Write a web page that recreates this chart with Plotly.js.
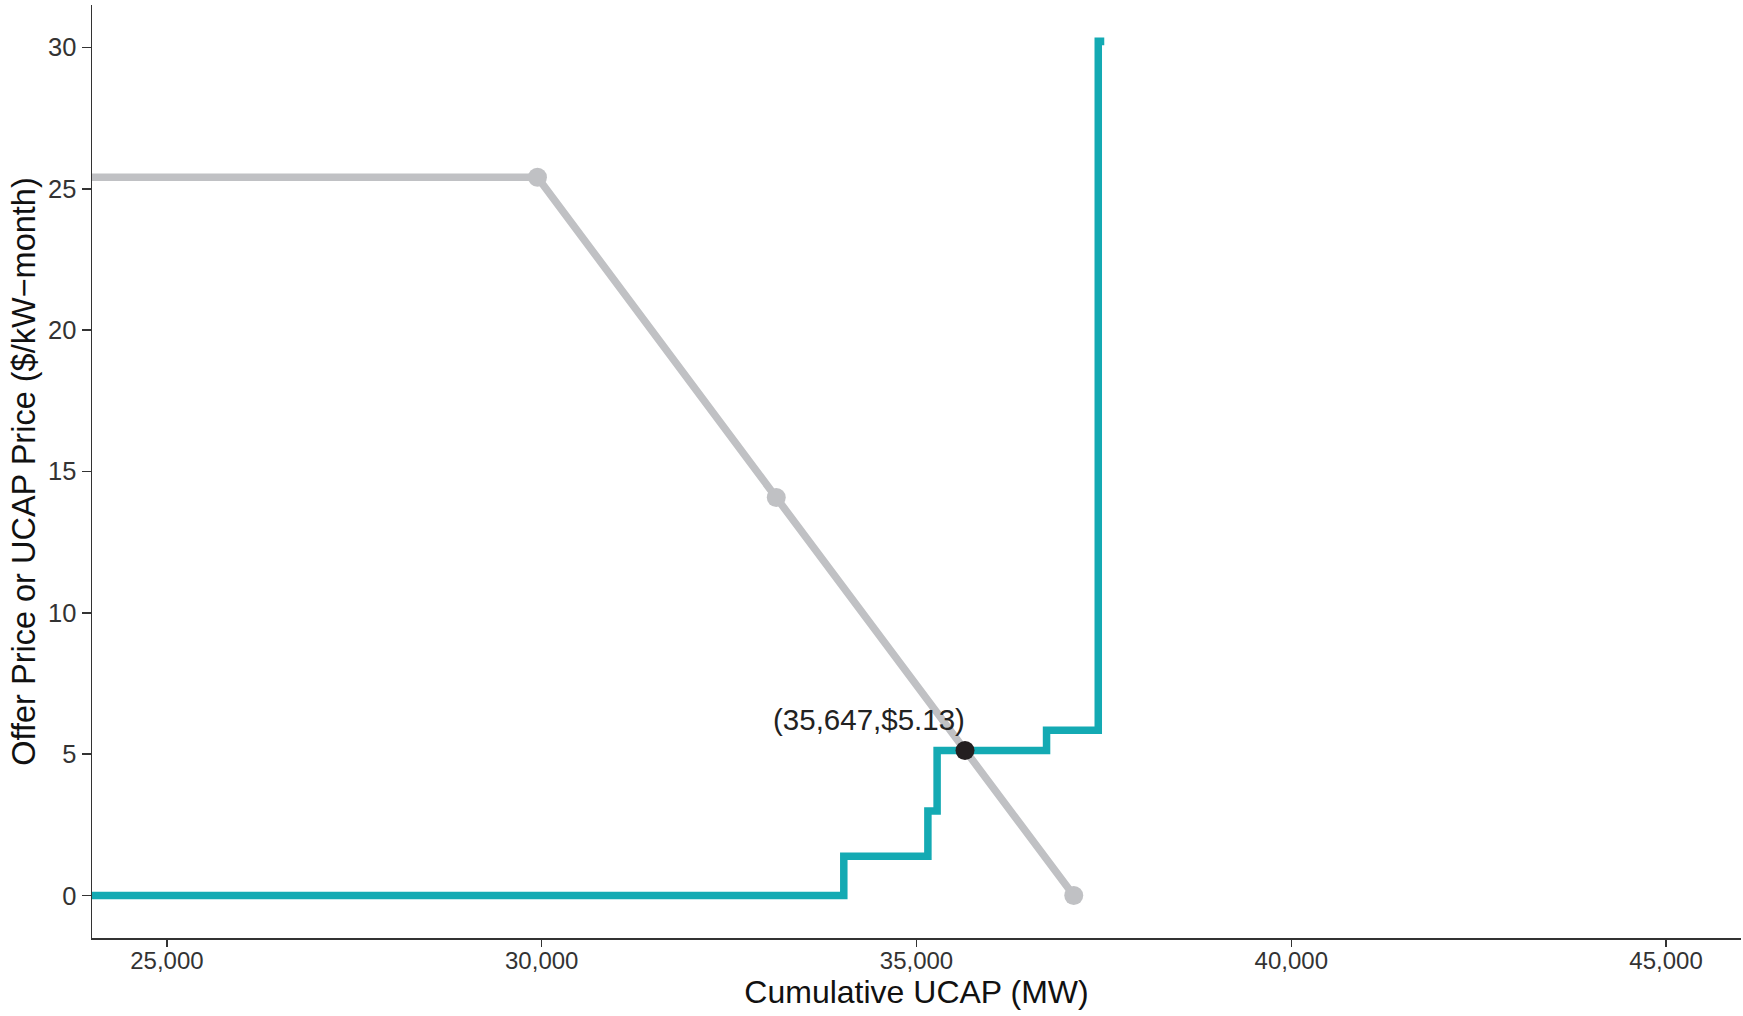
<!DOCTYPE html>
<html>
<head>
<meta charset="utf-8">
<script src="https://cdn.plot.ly/plotly-3.0.1.min.js"></script>
<style>html,body{margin:0;padding:0;background:#fff;}</style>
</head>
<body>
<div id="chart" style="width:1743px;height:1016px;"></div>
<script>
// Supply curve (step): cumulative UCAP (MW) and offer price ($/kW-month)
const supplyX = [24000, 34030, 35152, 35275, 36735, 37425, 37455];
const supplyY = [0, 1.39, 2.99, 5.13, 5.85, 30.22, 30.08];

// Demand curve
const demandX = [24000, 29943, 33129, 37098];
const demandY = [25.41, 25.41, 14.08, 0];
// Demand curve break points (markers)
const demandPtX = [29943, 33129, 37098];
const demandPtY = [25.41, 14.08, 0];

// Clearing point
const clearX = [35647];
const clearY = [5.13];
const clearLabel = ["(35,647,$5.13)"];

const xTicks = [25000, 30000, 35000, 40000, 45000];
const xTickText = ["25,000", "30,000", "35,000", "40,000", "45,000"];
const yTicks = [0, 5, 10, 15, 20, 25, 30];

const FONT = "Liberation Sans, Arial, Helvetica, sans-serif";
const TEAL = "#14AAB3";
const GREY = "#C0C1C4";

const traces = [
  {x: demandX, y: demandY, mode: "lines", line: {color: GREY, width: 7.5}, hoverinfo: "skip", showlegend: false},
  {x: demandPtX, y: demandPtY, mode: "markers", marker: {color: GREY, size: 19}, hoverinfo: "skip", showlegend: false},
  {x: supplyX, y: supplyY, mode: "lines", line: {color: TEAL, width: 7.5, shape: "hv"}, hoverinfo: "skip", showlegend: false},
  {x: clearX, y: clearY, mode: "markers", marker: {color: "#231F20", size: 19}, hoverinfo: "skip", showlegend: false}
];

const layout = {
  width: 1743, height: 1016,
  margin: {l: 92, r: 2, t: 5, b: 78},
  paper_bgcolor: "#ffffff", plot_bgcolor: "#ffffff",
  font: {family: FONT, color: "#222"},
  showlegend: false,
  xaxis: {
    range: [24000, 46000],
    tickvals: xTicks, ticktext: xTickText,
    showgrid: false, zeroline: false,
    showline: true, linecolor: "#333", linewidth: 1.5,
    ticks: "outside", ticklen: 7, tickwidth: 1.5, tickcolor: "#333",
    ticklabelstandoff: -6,
    tickfont: {family: FONT, size: 24, color: "#333"},
    title: {text: "Cumulative UCAP (MW)", font: {family: FONT, size: 32, color: "#111"}, standoff: 6},
    automargin: false
  },
  yaxis: {
    range: [-1.5, 31.5],
    tickvals: yTicks,
    showgrid: false, zeroline: false,
    showline: true, linecolor: "#333", linewidth: 1.5,
    ticks: "outside", ticklen: 9, tickwidth: 1.5, tickcolor: "#333",
    tickfont: {family: FONT, size: 25.5, color: "#333"},
    title: {text: "Offer Price or UCAP Price ($/kW\u2212month)", font: {family: FONT, size: 32.5, color: "#111"}, standoff: 2},
    automargin: false
  },
  annotations: [{
    x: clearX[0], y: clearY[0], xref: "x", yref: "y",
    text: clearLabel[0], showarrow: false,
    xanchor: "right", yanchor: "bottom", yshift: 13, xshift: 2,
    font: {family: FONT, size: 29.5, color: "#222"}
  }]
};

Plotly.newPlot("chart", traces, layout, {displayModeBar: false, staticPlot: true});
</script>
</body>
</html>
